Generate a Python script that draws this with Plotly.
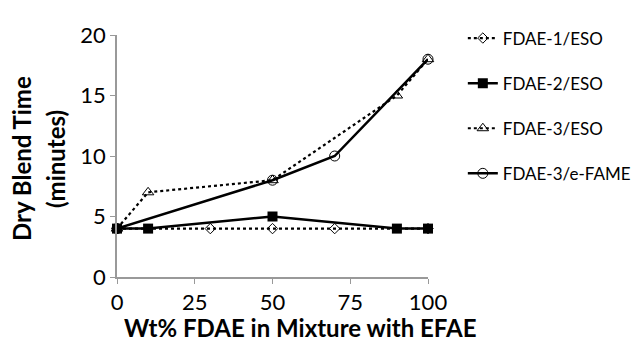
import plotly.graph_objects as go

x1 = [0, 30, 50, 70, 100]
y1 = [4, 4, 4, 4, 4]
x2 = [0, 10, 50, 90, 100]
y2 = [4, 4, 5, 4, 4]
x3 = [0, 10, 50, 90, 100]
y3 = [4, 7, 8, 15, 18]
x4 = [0, 50, 70, 100]
y4 = [4, 8, 10, 18]
names = ["FDAE-1/ESO", "FDAE-2/ESO", "FDAE-3/ESO", "FDAE-3/e-FAME"]
x_ticks = [0, 25, 50, 75, 100]
y_ticks = [0, 5, 10, 15, 20]

FONT = "Lato"
fig = go.Figure()
fig.add_trace(go.Scatter(x=x1, y=y1, name=names[0], mode="lines+markers", legendgroup="a",
                         line=dict(color="black", width=2.2, dash="dot"),
                         marker=dict(symbol="diamond-open", size=8, color="black", line=dict(width=1))))
fig.add_trace(go.Scatter(x=x2, y=y2, name=names[1], mode="lines+markers", legendgroup="b",
                         line=dict(color="black", width=2.5),
                         marker=dict(symbol="square", size=10, color="black")))
fig.add_trace(go.Scatter(x=x3, y=y3, name=names[2], mode="lines+markers", legendgroup="c",
                         line=dict(color="black", width=2.2, dash="dot"),
                         marker=dict(symbol="triangle-up-open", size=10, color="black", line=dict(width=1))))
fig.add_trace(go.Scatter(x=x4, y=y4, name=names[3], mode="lines+markers", legendgroup="d",
                         line=dict(color="black", width=2.5),
                         marker=dict(symbol="circle-open", size=10, color="black", line=dict(width=1))))

# page body has an 8px default margin; margins compensate so the plot sits at page px 117..428 x 25..277
fig.update_layout(
    width=664, height=342,
    margin=dict(l=109, r=244, t=17, b=73),
    paper_bgcolor="white", plot_bgcolor="white",
    font=dict(family=FONT, color="black"),
    showlegend=True,
    legend=dict(x=1.112, y=1.06, xanchor="left", yanchor="top", font=dict(size=17, family=FONT),
                tracegroupgap=20, bgcolor="rgba(0,0,0,0)"),
    xaxis=dict(range=[0, 100], tickvals=x_ticks, showgrid=False, zeroline=False, automargin=False,
               showline=True, linecolor="#999999", linewidth=1.5, ticks="outside", ticklen=5,
               tickcolor="#999999", tickfont=dict(size=22)),
    yaxis=dict(range=[0, 20], tickvals=y_ticks, showgrid=False, zeroline=False, automargin=False,
               showline=True, linecolor="#999999", linewidth=1.5, ticks="outside", ticklen=5,
               tickcolor="#999999", tickfont=dict(size=22)),
    annotations=[
        dict(text="<b>Wt% FDAE in Mixture with EFAE</b>", xref="paper", yref="paper",
             x=0.588, y=-0.21, xanchor="center", yanchor="middle", showarrow=False,
             font=dict(size=24, family=FONT)),
        dict(text="<b>Dry Blend Time</b>", xref="paper", yref="paper", textangle=-90,
             x=-0.305, y=0.488, xanchor="center", yanchor="middle", showarrow=False,
             font=dict(size=24, family=FONT)),
        dict(text="<b>(minutes)</b>", xref="paper", yref="paper", textangle=-90,
             x=-0.196, y=0.488, xanchor="center", yanchor="middle", showarrow=False,
             font=dict(size=24, family=FONT)),
    ],
)
fig.update_traces(cliponaxis=False)
fig.write_html("out.html", config={"displayModeBar": False})
